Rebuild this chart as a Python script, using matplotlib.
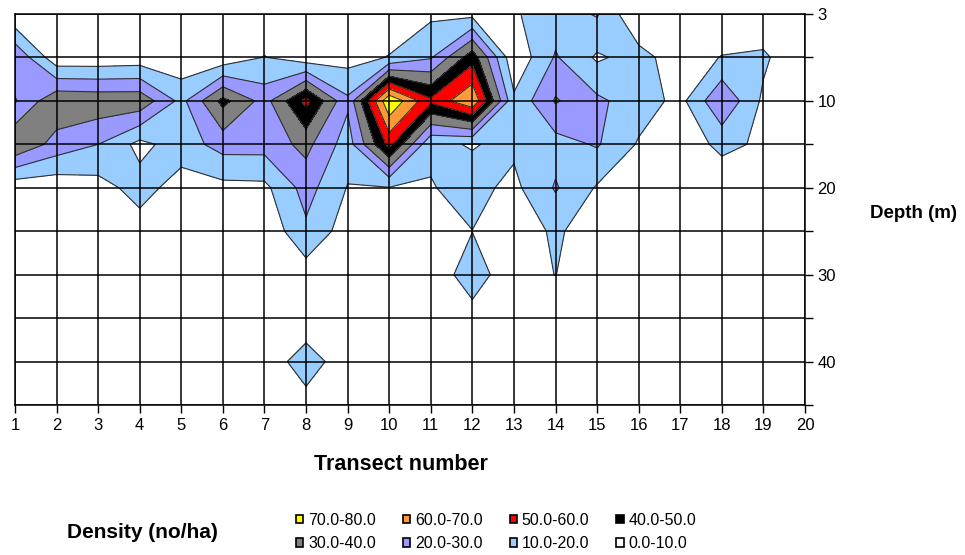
import numpy as np
import matplotlib.pyplot as plt
from matplotlib.patches import Patch

plt.rcParams['font.family'] = ['Liberation Sans', 'DejaVu Sans']

# Transects along x, depth series down y (evenly spaced categories)
transects = list(range(1, 21))
depths = ["3", "5", "10", "15", "20", "25", "30", "35", "40", "45"]
depth_labels = ["3", "", "10", "", "20", "", "30", "", "40", ""]

# Density (no/ha), one list per depth, transect 1..20
d03 = [1, 1, 1, 1, 1, 1, 2, 2, 2, 3, 8, 7, 9, 15, 21, 0, 0, 1, 1, 0]
d05 = [29, 3, 3, 4, 3, 3, 10.4, 4, 6, 10.5, 19, 46, 2, 21, 8.5, 14, 4, 10.5, 12, 0]
d10 = [19, 38, 37, 37, 17, 43, 26, 53, 22, 79, 52, 69, 12, 31, 22, 15, 7, 29, 8, 0]
d15 = [39.5, 26, 20, 7, 15, 24, 24, 33, 15, 53, 11.5, 9.5, 12, 16, 21, 9, 3, 13, 8, 0]
d20 = [3, 3, 6, 14, 5.5, 7, 7.5, 24, 9.5, 9.5, 9.5, 13, 7.5, 21, 9, 3, 1, 2, 1, 0]
d25 = [0, 0, 2, 5.5, 2, 1, 2.5, 18, 5, 2, 3, 9.9, 3, 12, 3, 1, 0, 0, 0, 0]
d30 = [0, 0, 0, 1, 0, 0, 1, 5, 2, 1, 5, 14, 4.7, 10.2, 1, 0, 0, 0, 0, 0]
d35 = [0, 0, 0, 0, 0, 0, 1, 2, 1, 0, 1, 7, 1, 1, 0, 0, 0, 0, 0, 0]
d40 = [0, 0, 0, 0, 0, 0, 2.7, 16, 3, 0, 0, 0, 0, 0, 0, 0, 0, 0, 0, 0]
d45 = [0, 0, 0, 0, 0, 0, 0, 5.5, 0, 0, 0, 0, 0, 0, 0, 0, 0, 0, 0, 0]

levels = [0, 10, 20, 30, 40, 50, 60, 70, 80]
band_colors = ["#FFFFFF", "#99CCFF", "#9999FF", "#808080",
               "#000000", "#FF0000", "#FF9933", "#FFFF00"]
band_labels = ["0.0-10.0", "10.0-20.0", "20.0-30.0", "30.0-40.0",
               "40.0-50.0", "50.0-60.0", "60.0-70.0", "70.0-80.0"]

Z = np.array([d03, d05, d10, d15, d20, d25, d30, d35, d40, d45])
X, Y = np.meshgrid(transects, np.arange(len(depths)))

fig = plt.figure(figsize=(9.65, 5.55), dpi=100)
ax = fig.add_axes([15 / 965, 1 - 405 / 555, 790 / 965, 391 / 555])

ax.contourf(X, Y, Z, levels=levels, colors=band_colors)
ax.contour(X, Y, Z, levels=levels[1:-1], colors="#303030", linewidths=0.8)

ax.set_xlim(1, 20)
ax.set_ylim(len(depths) - 1, 0)
ax.set_xticks(transects)
ax.set_xticklabels([str(t) for t in transects], fontsize=12)
ax.set_yticks(range(len(depths)))
ax.set_yticklabels(depth_labels, fontsize=12)
ax.yaxis.tick_right()
ax.tick_params(axis="both", length=6, width=1, color="black", pad=3)
ax.set_axisbelow(False)
ax.grid(True, color="black", linewidth=1.1)
for s in ax.spines.values():
    s.set_linewidth(1.1)

fig.text(401 / 965, 1 - 465 / 555, "Transect number", ha="center", va="center",
         fontsize=15.5, fontweight="bold")
fig.text(913 / 965, 1 - 213 / 555, "Depth (m)", ha="center", va="center",
         fontsize=13.5, fontweight="bold")
fig.text(142 / 965, 1 - 533 / 555, "Density (no/ha)", ha="center", va="center",
         fontsize=15, fontweight="bold")

# legend: two rows, highest band first (matplotlib fills column by column)
order = [7, 3, 6, 2, 5, 1, 4, 0]
handles = [Patch(facecolor=band_colors[i], edgecolor="black", linewidth=1.2) for i in order]
labels = [band_labels[i] for i in order]
fig.legend(handles, labels, ncol=4, loc="center left",
           bbox_to_anchor=(296 / 965, 1 - 532 / 555), frameon=False,
           fontsize=11.5, handlelength=0.45, handleheight=0.45, handletextpad=0.3,
           columnspacing=1.7, labelspacing=0.55, borderpad=0, borderaxespad=0)

fig.savefig("out.png", dpi=100)
